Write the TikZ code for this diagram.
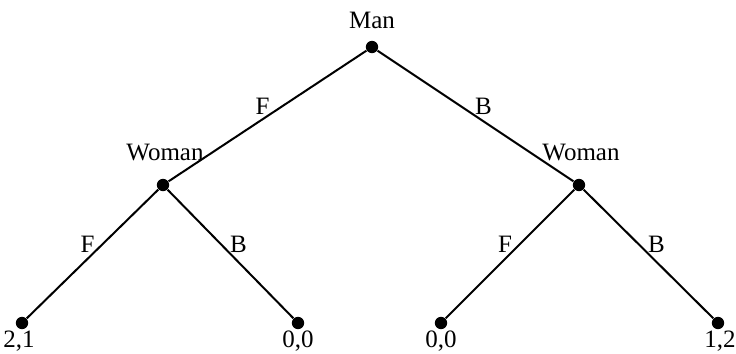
\documentclass[tikz,border=0pt]{standalone}
\usepackage{fontspec}
\setmainfont{Liberation Serif}
\usepackage{tikz}
\usetikzlibrary{positioning}

\tikzset{
  dot/.style={circle,fill=black,inner sep=0pt,minimum size=6.2pt},
  branch/.style={line width=1pt},
  lblL/.style={midway,inner sep=0pt,xshift=-2.5pt,yshift=5pt},
  lblR/.style={midway,inner sep=0pt,xshift=4pt,yshift=5pt},
}

\begin{document}
\begin{tikzpicture}[x=0.5pt,y=-0.5pt,font=\fontsize{12.5}{14}\selectfont]
  \useasboundingbox (0,0) rectangle (736,354);
  % decision nodes
  \node[dot] (M) at (372,47) {};
  \node[dot] (WL) at (163,185) {};
  \node[dot] (WR) at (579,185) {};
  % terminal nodes
  \node[dot] (T1) at (22,323) {};
  \node[dot] (T2) at (298,323) {};
  \node[dot] (T3) at (441,323) {};
  \node[dot] (T4) at (718,323) {};
  % player names
  \node (Mlab) at (372,20) {Man};
  \node (WLlab) at (165,153) {Woman};
  \node (WRlab) at (581,153) {Woman};
  % payoffs
  \node (P1) at (19,341) {2,1};
  \node (P2) at (298,341) {0,0};
  \node (P3) at (441,341) {0,0};
  \node (P4) at (720,341) {1,2};
  % branches
  \draw[branch] (M) -- node[lblL]{F} (WL);
  \draw[branch] (M) -- node[lblR]{B} (WR);
  \draw[branch] (WL) -- node[lblL]{F} (T1);
  \draw[branch] (WL) -- node[lblR]{B} (T2);
  \draw[branch] (WR) -- node[lblL]{F} (T3);
  \draw[branch] (WR) -- node[lblR]{B} (T4);
\end{tikzpicture}
\end{document}
